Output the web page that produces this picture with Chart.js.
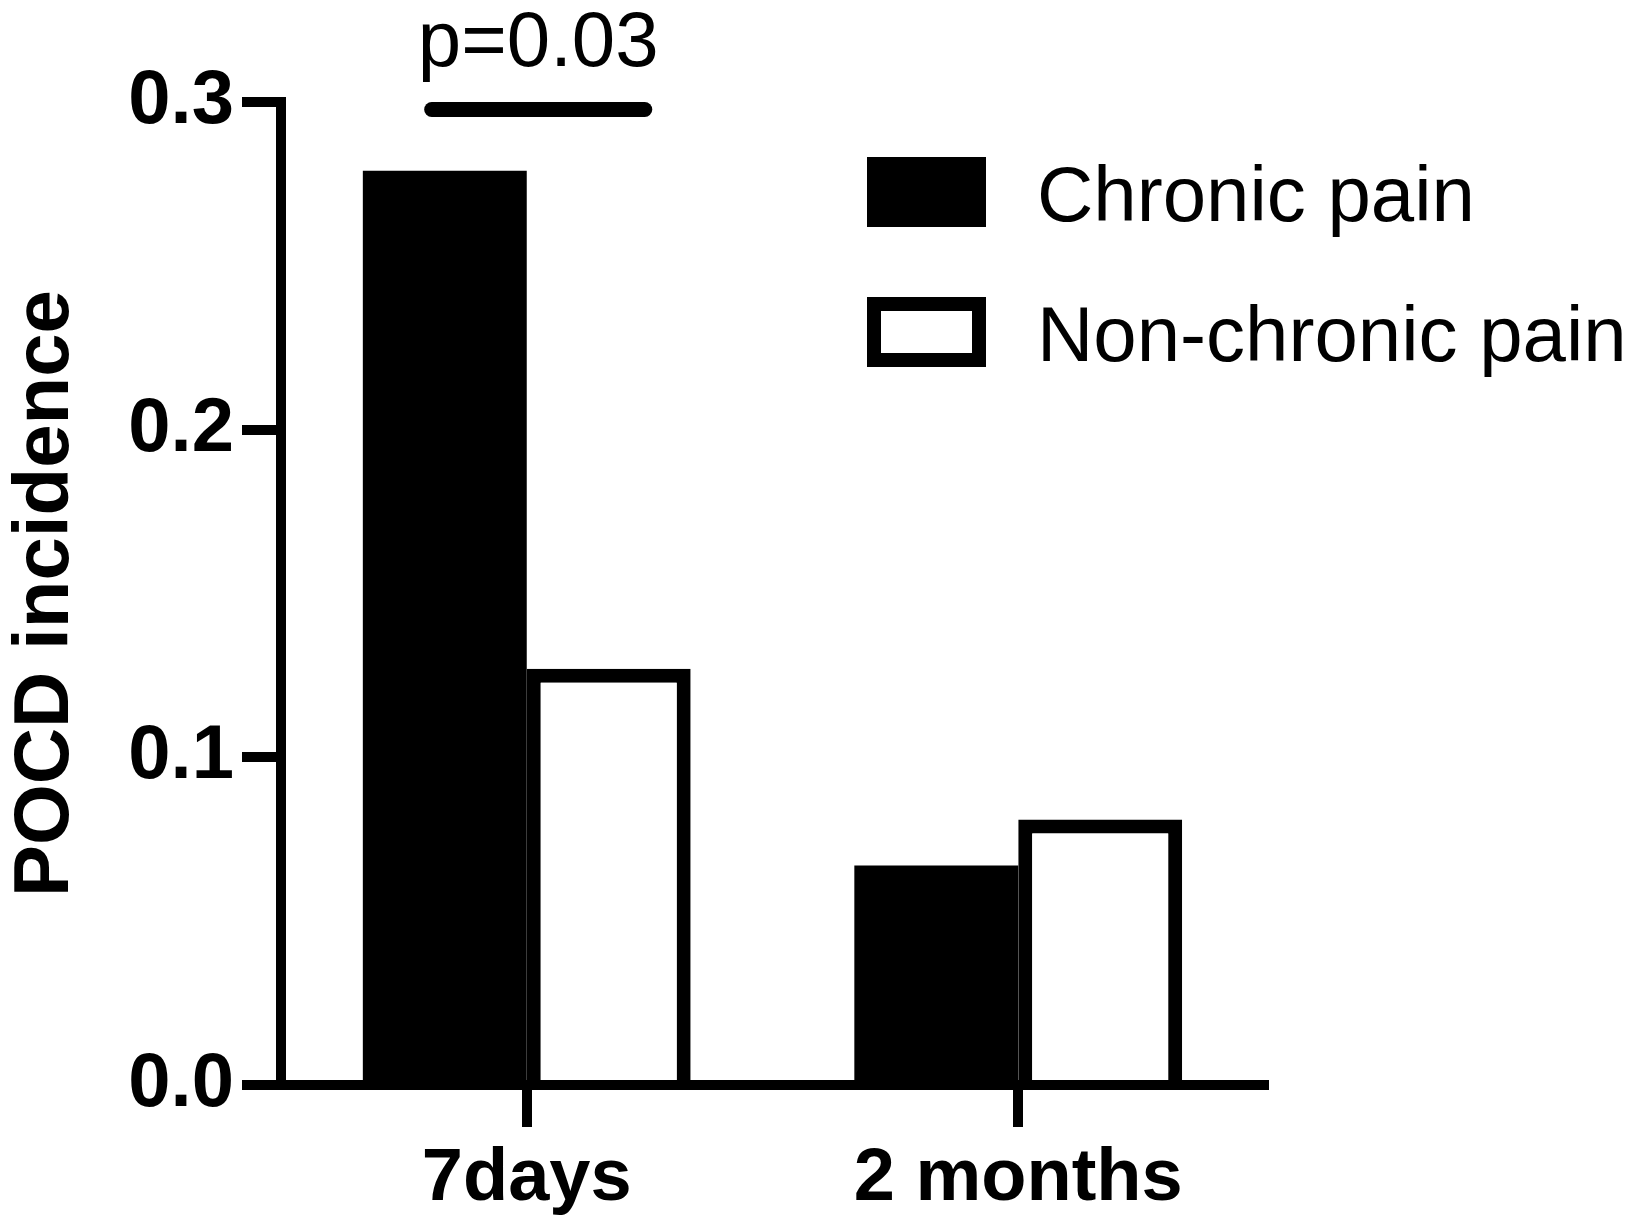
<!DOCTYPE html>
<html>
<head>
<meta charset="utf-8">
<script src="https://cdn.jsdelivr.net/npm/chart.js@4"></script>
<style>
html, body { margin: 0; padding: 0; background: #fff; }
canvas { display: block; }
</style>
</head>
<body>
<canvas id="pocdChart" width="1644" height="1226"></canvas>
<script>
var timepoints = ['7days', '2 months'];
var seriesNames = ['Chronic pain', 'Non-chronic pain'];
var chronicPain = [0.279, 0.067];
var nonChronicPain = [0.127, 0.081];
var yTicks = [0, 0.1, 0.2, 0.3];
var pText = 'p=0.03';
var pLineValue = 0.2977;

var FONT = '"Liberation Sans", Arial, Helvetica, sans-serif';
Chart.defaults.font.family = FONT;
Chart.defaults.color = '#000';

// legend boxes drawn inside the plot, top right
var legendBoxes = {
    id: 'legendBoxes',
    afterDraw: function (chart) {
        var ctx = chart.ctx;
        ctx.save();
        chart.data.datasets.forEach(function (ds, i) {
            var x = 867, y = 157 + i * 140, w = 119, h = 70;
            ctx.fillStyle = ds.backgroundColor;
            ctx.fillRect(x, y, w, h);
            if (ds.borderWidth > 0) {
                ctx.lineWidth = ds.borderWidth;
                ctx.strokeStyle = ds.borderColor;
                ctx.strokeRect(x + ds.borderWidth / 2, y + ds.borderWidth / 2, w - ds.borderWidth, h - ds.borderWidth);
            }
            ctx.fillStyle = '#000';
            ctx.font = '78px ' + FONT;
            ctx.textAlign = 'left';
            ctx.textBaseline = 'alphabetic';
            ctx.fillText(ds.label, 1037, y + 64);
        });
        ctx.restore();
    }
};

// significance line over the 7days pair
var pAnnotation = {
    id: 'pAnnotation',
    afterDraw: function (chart) {
        var ctx = chart.ctx;
        var b0 = chart.getDatasetMeta(0).data[0];
        var b1 = chart.getDatasetMeta(1).data[0];
        var x1 = b0.x - 0.08 * b0.width;
        var x2 = b1.x + 0.22 * b1.width;
        var y = chart.scales.y.getPixelForValue(pLineValue);
        ctx.save();
        ctx.strokeStyle = '#000';
        ctx.lineWidth = 15;
        ctx.lineCap = 'round';
        ctx.beginPath();
        ctx.moveTo(x1, y);
        ctx.lineTo(x2, y);
        ctx.stroke();
        ctx.fillStyle = '#000';
        ctx.font = '78px ' + FONT;
        ctx.textAlign = 'center';
        ctx.textBaseline = 'alphabetic';
        ctx.fillText(pText, (x1 + x2) / 2, y - 44);
        ctx.restore();
    }
};

var pocdConfig = {
    type: 'bar',
    data: {
        labels: timepoints,
        datasets: [{
            label: seriesNames[0],
            data: chronicPain,
            backgroundColor: '#000',
            borderColor: '#000',
            borderWidth: 0,
            categoryPercentage: 0.667,
            barPercentage: 1.0
        }, {
            label: seriesNames[1],
            data: nonChronicPain,
            backgroundColor: '#fff',
            borderColor: '#000',
            borderWidth: 14,
            categoryPercentage: 0.667,
            barPercentage: 1.0
        }]
    },
    options: {
        responsive: false,
        animation: false,
        devicePixelRatio: 1,
        layout: {
            padding: { left: 0, top: 102, right: 380, bottom: 0 }
        },
        scales: {
            x: {
                z: 1,
                offset: true,
                grid: {
                    drawOnChartArea: false,
                    offset: false,
                    color: '#000',
                    lineWidth: 10,
                    tickLength: 42
                },
                border: { display: true, color: '#000', width: 10 },
                ticks: {
                    color: '#000',
                    maxRotation: 0,
                    padding: 8,
                    font: { size: 74, weight: 'bold' }
                },
                afterFit: function (scale) { scale.height = 141; }
            },
            y: {
                z: 1,
                min: yTicks[0],
                max: yTicks[yTicks.length - 1],
                grid: {
                    drawOnChartArea: false,
                    color: '#000',
                    lineWidth: 10,
                    tickLength: 39
                },
                border: { display: true, color: '#000', width: 10 },
                ticks: {
                    color: '#000',
                    stepSize: 0.1,
                    padding: 8,
                    font: { size: 76, weight: 'bold' },
                    callback: function (v) { return v.toFixed(1); }
                },
                title: {
                    display: true,
                    text: 'POCD incidence',
                    color: '#000',
                    padding: 0,
                    font: { size: 78, weight: 'bold' }
                },
                afterFit: function (scale) { scale.width = 281; }
            }
        },
        plugins: {
            legend: { display: false },
            tooltip: { enabled: false },
            title: { display: false }
        }
    },
    plugins: [legendBoxes, pAnnotation]
};

var ctx = document.getElementById('pocdChart').getContext('2d');
var pocdChart = new Chart(ctx, pocdConfig);
</script>
</body>
</html>
